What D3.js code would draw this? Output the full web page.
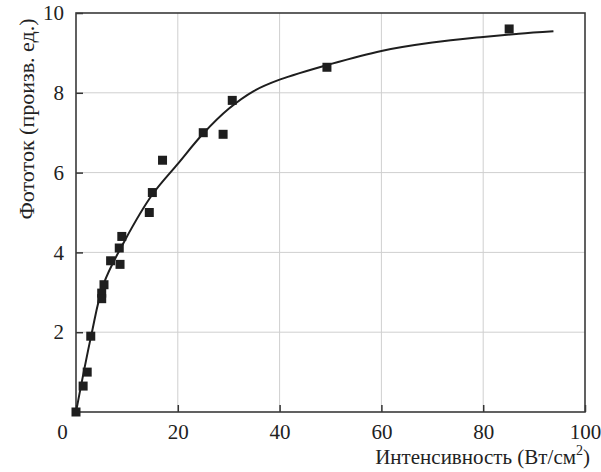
<!DOCTYPE html>
<html>
<head>
<meta charset="utf-8">
<script src="https://cdn.jsdelivr.net/npm/d3@7"></script>
<style>
  body { margin: 0; background: #fff; }
  text { font-family: "Liberation Serif", "DejaVu Serif", serif; fill: #222; }
</style>
</head>
<body>
<svg id="chart" width="601" height="472"></svg>
<script>
// measured points
const pointX = [0, 1.4, 2.2, 2.9, 5.05, 5.05, 5.5, 6.8, 8.5, 8.65, 9.0, 14.4, 15.0, 17.0, 25.0, 28.9, 30.7, 49.3, 85.1];
const pointY = [0, 0.65, 1.0, 1.9, 2.98, 2.84, 3.19, 3.79, 4.11, 3.70, 4.40, 5.0, 5.5, 6.31, 7.0, 6.96, 7.81, 8.64, 9.6];

// fitted curve
const curveX = [0, 3, 5.4, 9.6, 15, 20, 25, 30, 35, 40, 50, 60, 70, 80, 87, 93.8];
const curveY = [0, 1.92, 3.2, 4.3, 5.45, 6.22, 6.98, 7.6, 8.05, 8.33, 8.72, 9.05, 9.26, 9.40, 9.48, 9.54];

const xTicks = [0, 20, 40, 60, 80, 100];
const yTicks = [2, 4, 6, 8, 10];

const plotLeft = 76, plotRight = 585, plotTop = 13, plotBottom = 412;

let svg = d3.select('#chart');
let x = d3.scaleLinear().domain([0, 100]).range([plotLeft, plotRight]);
let y = d3.scaleLinear().domain([0, 10]).range([plotBottom, plotTop]);

// grid
svg.append('g').selectAll('line').data(xTicks.slice(1, -1)).join('line')
    .attr('x1', d => x(d)).attr('x2', d => x(d))
    .attr('y1', plotTop).attr('y2', plotBottom)
    .attr('stroke', '#cfcfcf').attr('stroke-width', 1);
svg.append('g').selectAll('line').data(yTicks.slice(0, -1)).join('line')
    .attr('x1', plotLeft).attr('x2', plotRight)
    .attr('y1', d => y(d)).attr('y2', d => y(d))
    .attr('stroke', '#cfcfcf').attr('stroke-width', 1);

// axes with inward ticks
let xAxis = d3.axisBottom(x).tickValues(xTicks).tickSizeInner(-7).tickSizeOuter(0).tickPadding(12);
let gx = svg.append('g').attr('transform', `translate(0,${plotBottom})`).call(xAxis);
let yAxis = d3.axisLeft(y).tickValues(yTicks).tickSizeInner(-7).tickSizeOuter(0).tickPadding(12);
let gy = svg.append('g').attr('transform', `translate(${plotLeft},0)`).call(yAxis);
[gx, gy].forEach(g => {
    g.attr('font-family', '"Liberation Serif", serif');
    g.select('.domain').remove();
    g.selectAll('.tick line').attr('stroke', '#333').attr('stroke-width', 1.5);
    g.selectAll('.tick text').attr('font-size', 21).attr('fill', '#222');
});
gx.selectAll('.tick text').filter(d => d === 0).attr('dx', -14);

// frame
svg.append('rect').attr('x', plotLeft).attr('y', plotTop)
    .attr('width', plotRight - plotLeft).attr('height', plotBottom - plotTop)
    .attr('fill', 'none').attr('stroke', '#3a3a3a').attr('stroke-width', 1.6);

// curve
let line = d3.line().x(d => x(d[0])).y(d => y(d[1])).curve(d3.curveCatmullRom);
svg.append('path').datum(curveX.map((v, i) => [v, curveY[i]]))
    .attr('d', line).attr('fill', 'none').attr('stroke', '#1e1e1e').attr('stroke-width', 2);

// markers
const s = 9;
svg.append('g').selectAll('rect').data(pointX.map((v, i) => [v, pointY[i]])).join('rect')
    .attr('x', d => x(d[0]) - s / 2).attr('y', d => y(d[1]) - s / 2)
    .attr('width', s).attr('height', s).attr('fill', '#1e1e1e');

// titles
let xt = svg.append('text').attr('x', 590).attr('y', 464).attr('text-anchor', 'end').attr('font-size', 21);
xt.append('tspan').text('Интенсивность (Вт/см');
xt.append('tspan').attr('dy', -9).attr('font-size', 14).text('2');
xt.append('tspan').attr('dy', 9).text(')');

svg.append('text').attr('transform', 'translate(26,119) rotate(-90)')
    .attr('text-anchor', 'middle').attr('dominant-baseline', 'central')
    .attr('font-size', 22).text('Фототок (произв. ед.)');
</script>
</body>
</html>
